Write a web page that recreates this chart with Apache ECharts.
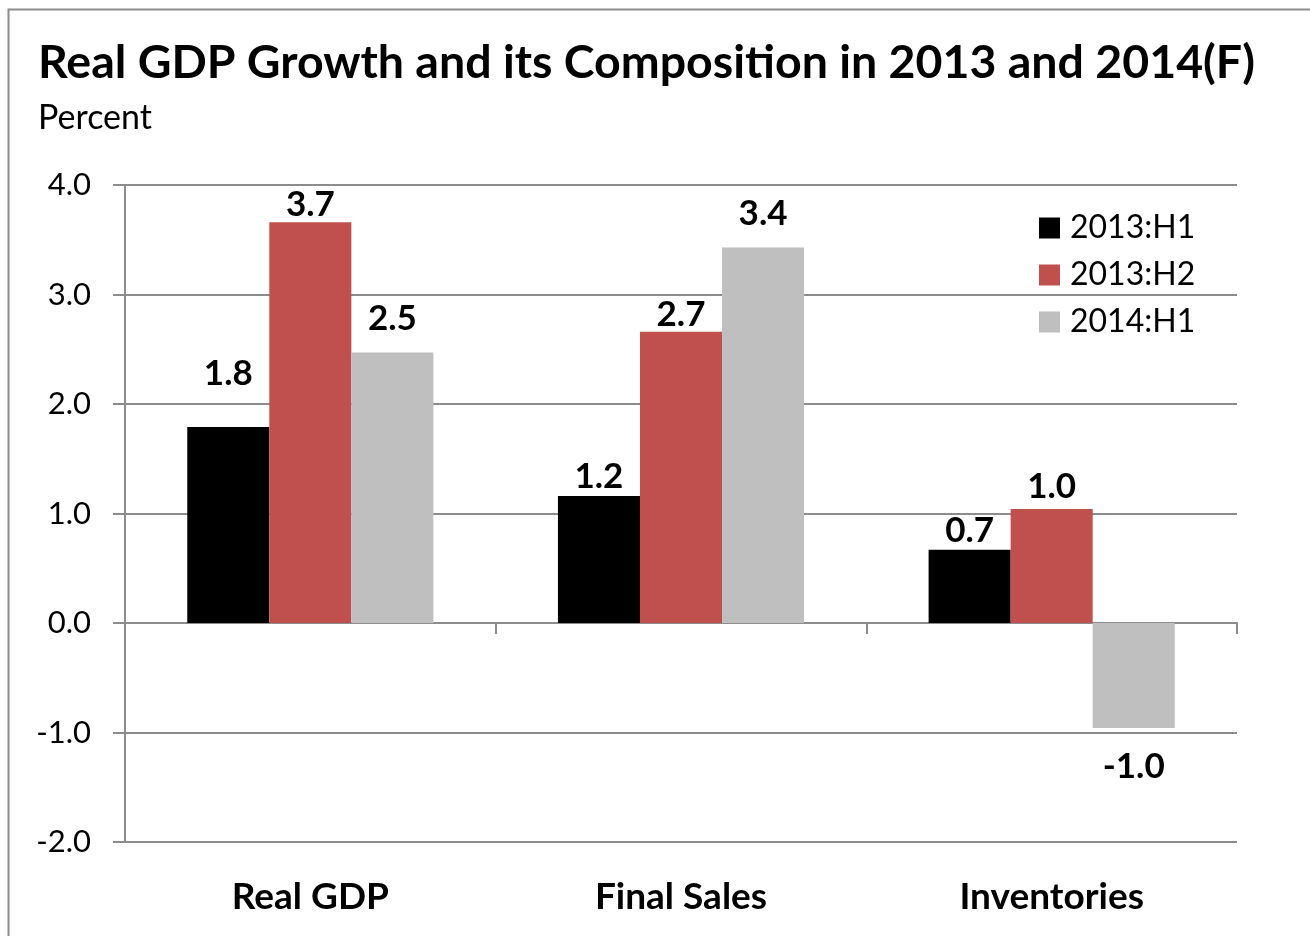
<!DOCTYPE html>
<html>
<head>
<meta charset="utf-8">
<script src="https://cdn.jsdelivr.net/npm/echarts@6/dist/echarts.min.js"></script>
<style>
html,body{margin:0;padding:0;background:#fff;}
#chart{width:1310px;height:936px;}
</style>
</head>
<body>
<div id="chart"></div>
<script>
const categories = ['Real GDP', 'Final Sales', 'Inventories'];
const seriesNames = ['2013:H1', '2013:H2', '2014:H1'];
const h1_2013 = [1.79, 1.16, 0.67];
const h2_2013 = [3.66, 2.66, 1.04];
const h1_2014 = [2.47, 3.43, -0.96];
const yTicks = [-2, -1, 0, 1, 2, 3, 4];

// styling: label gaps (px) from bar end, as placed in the original
const labelGaps = [
  [36, 1.5, 1],
  [0, 0, 4.5],
  [16, 16, 21.5]
];

const colors = ['#000000', '#C0504D', '#BFBFBF'];
const FONT = 'Lato, "Open Sans", sans-serif';
const gridColor = '#8C8C8C';

function makeSeries(idx, values) {
  return {
    name: seriesNames[idx],
    type: 'bar',
    xAxisIndex: 0,
    barGap: '0%',
    barCategoryGap: '33.6%',
    itemStyle: { color: colors[idx] },
    data: values.map((v, i) => ({
      value: v,
      label: v < 0
        ? { position: 'bottom', distance: labelGaps[idx][i] }
        : { position: 'top', distance: labelGaps[idx][i] }
    })),
    label: {
      show: true,
      fontFamily: FONT,
      fontWeight: 'bold',
      fontSize: 35,
      color: '#000',
      formatter: p => p.value.toFixed(1)
    }
  };
}

const chart = echarts.init(document.getElementById('chart'), null, { renderer: 'canvas' });
chart.setOption({
  backgroundColor: '#fff',
  animation: false,
  title: [
    {
      text: 'Real GDP Growth and its Composition in 2013 and 2014(F)',
      left: 38, top: 38, padding: 0,
      textStyle: { fontFamily: FONT, fontWeight: 'bold', fontSize: 46.5, color: '#000', lineHeight: 50 }
    },
    {
      text: 'Percent',
      left: 38, top: 100, padding: 0,
      textStyle: { fontFamily: FONT, fontWeight: 'normal', fontSize: 34, color: '#000', lineHeight: 36 }
    }
  ],
  graphic: [
    {
      type: 'rect',
      shape: { x: 8.5, y: 9.5, width: 1320, height: 950 },
      style: { fill: 'none', stroke: gridColor, lineWidth: 2 },
      silent: true
    }
  ],
  legend: {
    orient: 'vertical',
    left: 1039, top: 212,
    padding: 0,
    itemWidth: 21, itemHeight: 21,
    itemGap: 15,
    icon: 'rect',
    data: seriesNames,
    textStyle: { fontFamily: FONT, fontSize: 32, color: '#000', lineHeight: 32, padding: [0, 0, 0, 5] }
  },
  grid: { left: 125, right: 73, top: 185, bottom: 94, containLabel: false },
  xAxis: [
    {
      type: 'category',
      data: categories,
      position: 'bottom',
      axisLine: { show: false, onZero: false },
      axisTick: { show: false },
      axisLabel: { fontFamily: FONT, fontWeight: 'bold', fontSize: 37, color: '#000', margin: 37 }
    },
    {
      type: 'category',
      data: categories,
      position: 'bottom',
      axisLine: { show: true, onZero: true, lineStyle: { color: gridColor, width: 2 } },
      axisTick: { show: true, length: 11, lineStyle: { color: gridColor, width: 2 } },
      axisLabel: { show: false }
    }
  ],
  yAxis: {
    type: 'value',
    min: yTicks[0],
    max: yTicks[yTicks.length - 1],
    interval: 1,
    axisLine: { show: true, lineStyle: { color: gridColor, width: 2 } },
    axisTick: { show: true, length: 12, lineStyle: { color: gridColor, width: 2 } },
    splitLine: { show: true, lineStyle: { color: gridColor, width: 2 } },
    axisLabel: { fontFamily: FONT, fontSize: 31, color: '#000', margin: 34, formatter: v => v.toFixed(1) }
  },
  series: [
    makeSeries(0, h1_2013),
    makeSeries(1, h2_2013),
    makeSeries(2, h1_2014)
  ]
});
</script>
</body>
</html>
